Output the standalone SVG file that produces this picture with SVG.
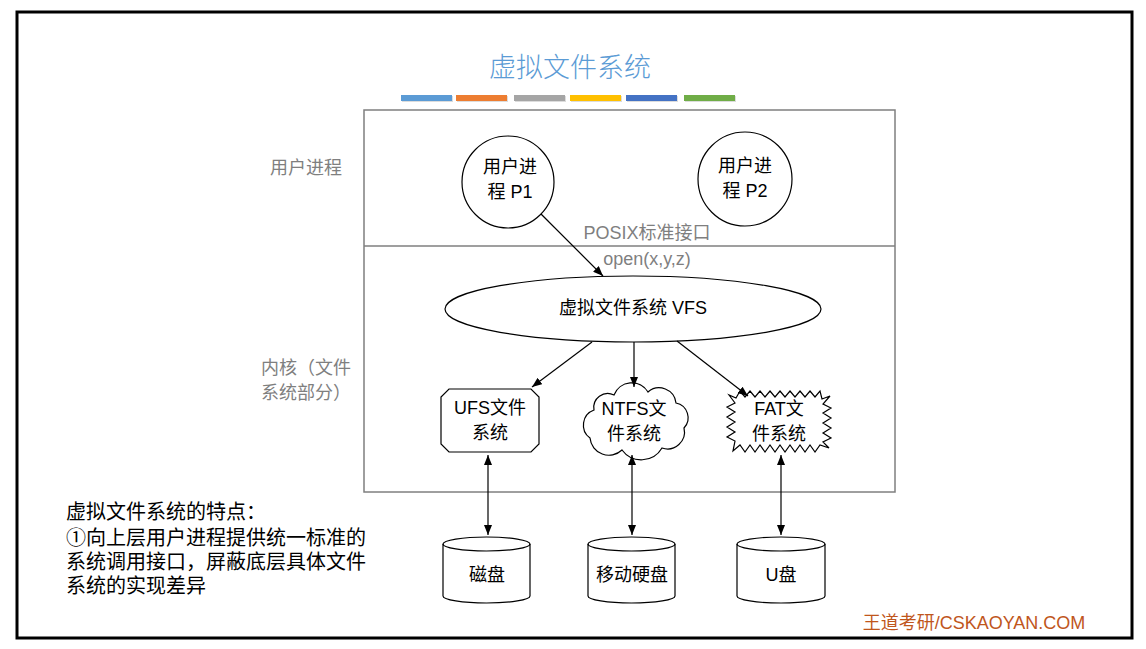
<svg xmlns="http://www.w3.org/2000/svg" width="1146" height="649" viewBox="0 0 1146 649">
<defs>
<marker id="ah" viewBox="0 0 10 8" refX="10" refY="4" markerWidth="10" markerHeight="8" markerUnits="userSpaceOnUse" orient="auto-start-reverse">
<path d="M0,0 L10,4 L0,8 z" fill="#000"/>
</marker>
</defs>
<style>
text{font-family:"Liberation Sans","Noto Sans CJK SC",sans-serif;font-size:18px;fill:#000;text-anchor:middle;dominant-baseline:central}
.gray{fill:#7f7f7f}
.shape{fill:#fff;stroke:#000;stroke-width:1.2}
.conn{fill:none;stroke:#000;stroke-width:1.2}
.note{font-family:"Liberation Serif","Noto Sans CJK SC",serif;text-anchor:start;font-size:20px}
</style>
<rect x="0" y="0" width="1146" height="649" fill="#fff"/>
<rect x="17" y="12" width="1115" height="626" fill="none" stroke="#000" stroke-width="3"/>

<g id="title">
<text x="570" y="65" style="font-size:27px;fill:#5b9bd5;font-family:'Noto Sans CJK SC',sans-serif;font-weight:300">虚拟文件系统</text>
<g fill="#bbb" opacity="0.5">
<rect x="402" y="96" width="51" height="6"/><rect x="457" y="96" width="51" height="6"/><rect x="515" y="96" width="51" height="6"/><rect x="571" y="96" width="51" height="6"/><rect x="627" y="96" width="51" height="6"/><rect x="685" y="96" width="51" height="6"/>
</g>
<rect x="401" y="95" width="51" height="6" fill="#5b9bd5"/>
<rect x="456" y="95" width="51" height="6" fill="#ed7d31"/>
<rect x="514" y="95" width="51" height="6" fill="#a5a5a5"/>
<rect x="570" y="95" width="51" height="6" fill="#ffc000"/>
<rect x="626" y="95" width="51" height="6" fill="#4472c4"/>
<rect x="684" y="95" width="51" height="6" fill="#70ad47"/>
</g>

<g id="layers">
<rect x="364" y="110" width="531" height="382" fill="none" stroke="#7f7f7f" stroke-width="1.5"/>
<line x1="364" y1="246" x2="895" y2="246" stroke="#7f7f7f" stroke-width="1.5"/>
<text class="gray" x="306" y="168">用户进程</text>
<text class="gray" x="261" y="368" style="text-anchor:start">内核（文件</text>
<text class="gray" x="261" y="393" style="text-anchor:start">系统部分）</text>
<text class="gray" x="647" y="233">POSIX标准接口</text>
<text class="gray" x="647" y="259">open(x,y,z)</text>
</g>

<g id="p1">
<circle class="shape" cx="508" cy="182" r="46"/>
<text x="510" y="167">用户进</text>
<text x="510" y="192">程 P1</text>
</g>
<g id="p2">
<circle class="shape" cx="745" cy="179" r="47"/>
<text x="745" y="166">用户进</text>
<text x="745" y="191">程 P2</text>
</g>

<g id="vfs">
<ellipse class="shape" cx="633" cy="309" rx="188" ry="33"/>
<text x="633" y="308">虚拟文件系统 VFS</text>
</g>

<g id="ufs">
<path class="shape" d="M449,389 H531 L539,397 V444 L531,452 H449 L441,444 V397 Z"/>
<text x="490" y="408">UFS文件</text>
<text x="490" y="433">系统</text>
</g>

<g id="ntfs">
<path class="shape" d="M594,410 A14,14 0 0 1 614,395 A19,19 0 0 1 648,392 A17,17 0 0 1 676,403 A15,15 0 0 1 684,428 A17,17 0 0 1 662,448 A24,24 0 0 1 622,450 A19,19 0 0 1 590,438 A16,16 0 0 1 594,410 Z"/>
<text x="634" y="409">NTFS文</text>
<text x="634" y="434">件系统</text>
</g>

<g id="fat">
<path class="shape" d="M736,398 L740,391 L745,397 L750,391 L755,397 L760,391 L765,397 L770,391 L775,397 L780,391 L785,397 L790,391 L795,397 L800,391 L805,397 L810,391 L815,397 L820,391 L822,399 L830,396 L823,404 L831,408 L823,413 L831,418 L823,423 L831,428 L823,433 L831,438 L823,442 L829,448 L820,445 L815,452 L810,445 L805,452 L800,445 L795,452 L790,445 L785,452 L780,445 L775,452 L770,445 L765,452 L760,445 L755,452 L750,445 L745,452 L740,445 L733,451 L735,441 L727,437 L735,432 L727,427 L735,422 L727,417 L735,412 L727,407 L735,403 L729,395 Z"/>
<text x="779" y="409">FAT文</text>
<text x="779" y="434">件系统</text>
</g>

<g id="disk1">
<path class="shape" d="M443,544 A43.5,7 0 0 1 530,544 V596 A43.5,7 0 0 1 443,596 Z"/>
<path class="conn" d="M443,544 A43.5,7 0 0 0 530,544"/>
<text x="487" y="575">磁盘</text>
</g>
<g id="disk2">
<path class="shape" d="M588,544 A43.5,7 0 0 1 675,544 V596 A43.5,7 0 0 1 588,596 Z"/>
<path class="conn" d="M588,544 A43.5,7 0 0 0 675,544"/>
<text x="632" y="575">移动硬盘</text>
</g>
<g id="disk3">
<path class="shape" d="M737,544 A44,7 0 0 1 825,544 V596 A44,7 0 0 1 737,596 Z"/>
<path class="conn" d="M737,544 A44,7 0 0 0 825,544"/>
<text x="781" y="575">U盘</text>
</g>

<g id="connectors">
<line class="conn" x1="541" y1="214" x2="603" y2="276" marker-end="url(#ah)"/>
<line class="conn" x1="592" y1="342" x2="532" y2="387" marker-end="url(#ah)"/>
<line class="conn" x1="634" y1="342" x2="634" y2="387" marker-end="url(#ah)"/>
<line class="conn" x1="677" y1="341" x2="748" y2="396" marker-end="url(#ah)"/>
<line class="conn" x1="488" y1="455" x2="488" y2="535" marker-start="url(#ah)" marker-end="url(#ah)"/>
<line class="conn" x1="632" y1="455" x2="632" y2="535" marker-start="url(#ah)" marker-end="url(#ah)"/>
<line class="conn" x1="781" y1="455" x2="781" y2="535" marker-start="url(#ah)" marker-end="url(#ah)"/>
</g>

<g id="note">
<text class="note" x="66" y="512">虚拟文件系统的特点：</text>
<text class="note" x="66" y="538">①向上层用户进程提供统一标准的</text>
<text class="note" x="66" y="562">系统调用接口，屏蔽底层具体文件</text>
<text class="note" x="66" y="586">系统的实现差异</text>
</g>

<g id="watermark">
<text x="974" y="623" style="fill:#c0561c">王道考研/CSKAOYAN.COM</text>
</g>
</svg>
